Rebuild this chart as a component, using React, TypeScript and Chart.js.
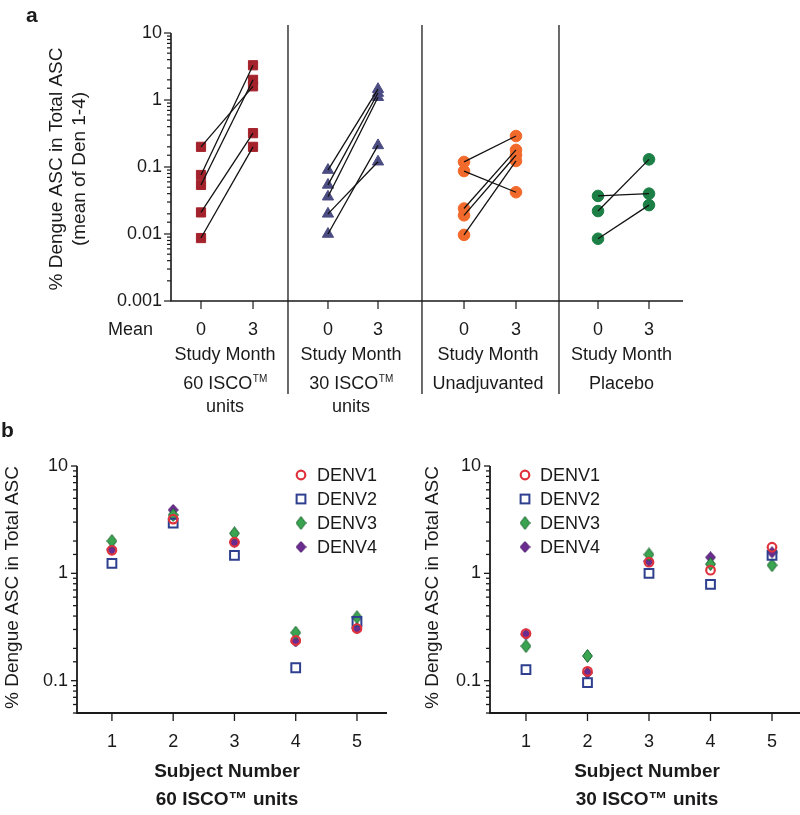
import React, { useEffect, useRef } from 'react';
import { Chart, registerables } from 'chart.js';

Chart.register(...registerables);

const FONT = '"Liberation Sans", Arial, Helvetica, sans-serif';
const INK = '#1a1a1a';

// ---------------- Panel a data ----------------
const monthLabels = ['0', '3'];
const groupLabels = ['60 ISCO', '30 ISCO', 'Unadjuvanted', 'Placebo'];
const groupHasTM = [true, true, false, false];
const groupSecondLine = ['units', 'units', '', ''];

const isco60Month0 = [0.2, 0.076, 0.054, 0.021, 0.0087];
const isco60Month3 = [1.6, 3.3, 2.0, 0.32, 0.2];
const isco30Month0 = [0.09, 0.054, 0.036, 0.02, 0.01];
const isco30Month3 = [1.45, 1.27, 1.1, 0.12, 0.21];
const unadjMonth0 = [0.119, 0.087, 0.024, 0.019, 0.0097];
const unadjMonth3 = [0.29, 0.042, 0.18, 0.15, 0.123];
const placeboMonth0 = [0.037, 0.022, 0.0085];
const placeboMonth3 = [0.04, 0.13, 0.027];

// ---------------- Panel b data ----------------
const subjectLabels = ['1', '2', '3', '4', '5'];
const denvLabels = ['DENV1', 'DENV2', 'DENV3', 'DENV4'];

const isco60Denv1 = [1.64, 3.2, 1.95, 0.237, 0.306];
const isco60Denv2 = [1.24, 2.93, 1.47, 0.132, 0.356];
const isco60Denv3 = [2.0, 3.5, 2.36, 0.28, 0.39];
const isco60Denv4 = [1.67, 3.9, 1.95, 0.232, 0.31];

const isco30Denv1 = [0.275, 0.122, 1.27, 1.07, 1.75];
const isco30Denv2 = [0.127, 0.096, 1.0, 0.79, 1.47];
const isco30Denv3 = [0.21, 0.17, 1.5, 1.22, 1.19];
const isco30Denv4 = [0.27, 0.118, 1.3, 1.41, 1.57];

// ---------------- layout (axis units) ----------------
const GROUP_X = [
  [0.586, 1.602],
  [3.066, 4.043],
  [5.723, 6.738],
  [8.34, 9.336],
];
const DIVIDERS_X = [2.285, 4.902, 7.578];

const GROUP_STYLE = [
  { color: '#a4222b', style: 'rect', radius: 6.5 },
  { color: '#4b4c82', style: 'triangle', radius: 6.5 },
  { color: '#f26a2b', style: 'circle', radius: 5.8 },
  { color: '#1c7f45', style: 'circle', radius: 5.8 },
];

const DENV_COLORS = {
  d1: '#e0323d',
  d2: '#2d3f8e',
  d3fill: '#3aa450',
  d3stroke: '#1d6630',
  d4fill: '#6b2c90',
  d4stroke: '#4a1a68',
};

function isMajor(v: number) {
  const l = Math.log10(v);
  return Math.abs(l - Math.round(l)) < 1e-6;
}
function fmtLog(v: number) {
  return isMajor(v) ? String(Number(v.toPrecision(1))) : '';
}

function drawTextTM(ctx: CanvasRenderingContext2D, base: string, tm: boolean, cx: number, cy: number) {
  ctx.font = `18px ${FONT}`;
  const w1 = ctx.measureText(base).width;
  let w2 = 0;
  if (tm) {
    ctx.font = `10px ${FONT}`;
    w2 = ctx.measureText('TM').width;
  }
  const start = cx - (w1 + w2) / 2;
  ctx.textAlign = 'left';
  ctx.textBaseline = 'middle';
  ctx.font = `18px ${FONT}`;
  ctx.fillText(base, start, cy);
  if (tm) {
    ctx.font = `10px ${FONT}`;
    ctx.fillText('TM', start + w1 + 0.5, cy - 5);
  }
}

function drawRotated(ctx: CanvasRenderingContext2D, text: string, x: number, y: number, font: string) {
  ctx.save();
  ctx.translate(x, y);
  ctx.rotate(-Math.PI / 2);
  ctx.font = font;
  ctx.textAlign = 'center';
  ctx.textBaseline = 'middle';
  ctx.fillText(text, 0, 0);
  ctx.restore();
}

function makeDiamond(w: number, h: number, fill: string, stroke: string) {
  const c = document.createElement('canvas');
  c.width = w;
  c.height = h;
  const g = c.getContext('2d') as CanvasRenderingContext2D;
  g.beginPath();
  g.moveTo(w / 2, 0.6);
  g.lineTo(w - 0.6, h / 2);
  g.lineTo(w / 2, h - 0.6);
  g.lineTo(0.6, h / 2);
  g.closePath();
  g.fillStyle = fill;
  g.fill();
  g.strokeStyle = stroke;
  g.lineWidth = 1;
  g.stroke();
  return c;
}

// ---------------- Panel a ----------------
function PanelA() {
  const ref = useRef<HTMLCanvasElement>(null);
  useEffect(() => {
    const canvas = ref.current!;
    const groups = [
      [isco60Month0, isco60Month3],
      [isco30Month0, isco30Month3],
      [unadjMonth0, unadjMonth3],
      [placeboMonth0, placeboMonth3],
    ];
    const datasets: any[] = [];
    groups.forEach(([m0, m3], gi) => {
      const [x0, x3] = GROUP_X[gi];
      const st = GROUP_STYLE[gi];
      datasets.push({
        data: [...m0.map((v) => ({ x: x0, y: v })), ...m3.map((v) => ({ x: x3, y: v }))],
        showLine: false,
        pointStyle: st.style,
        pointRadius: st.radius,
        pointBackgroundColor: st.color,
        pointBorderColor: st.color,
        pointBorderWidth: 1,
        order: 2,
      });
      m0.forEach((v, i) => {
        datasets.push({
          data: [
            { x: x0, y: v },
            { x: x3, y: m3[i] },
          ],
          showLine: true,
          borderColor: '#111',
          borderWidth: 1.3,
          pointRadius: 0,
          order: 1,
        });
      });
    });

    const plugin = {
      id: 'panelA',
      afterDraw(chart: any) {
        const { ctx, chartArea: ca, scales } = chart;
        const x = scales.x;
        const y = scales.y;
        ctx.save();
        ctx.strokeStyle = INK;
        ctx.fillStyle = INK;
        ctx.lineWidth = 1.6;
        ctx.beginPath();
        ctx.moveTo(ca.left, ca.top);
        ctx.lineTo(ca.left, ca.bottom);
        ctx.lineTo(ca.right, ca.bottom);
        ctx.stroke();
        ctx.lineWidth = 1.2;
        y.ticks.forEach((t: any) => {
          const py = y.getPixelForValue(t.value);
          const len = isMajor(t.value) ? 7 : 4;
          ctx.beginPath();
          ctx.moveTo(ca.left - len, py);
          ctx.lineTo(ca.left, py);
          ctx.stroke();
        });
        x.ticks.forEach((t: any) => {
          const px = x.getPixelForValue(t.value);
          ctx.beginPath();
          ctx.moveTo(px, ca.bottom);
          ctx.lineTo(px, ca.bottom + 8);
          ctx.stroke();
        });
        ctx.lineWidth = 1.3;
        DIVIDERS_X.forEach((d) => {
          const px = x.getPixelForValue(d);
          ctx.beginPath();
          ctx.moveTo(px, ca.top - 8);
          ctx.lineTo(px, ca.bottom + 93);
          ctx.stroke();
        });
        // labels
        ctx.font = `18px ${FONT}`;
        ctx.textAlign = 'right';
        ctx.textBaseline = 'middle';
        ctx.fillText('Mean', ca.left - 18, ca.bottom + 29);
        GROUP_X.forEach(([a, b], gi) => {
          const cx = (x.getPixelForValue(a) + x.getPixelForValue(b)) / 2 - 2;
          ctx.font = `18px ${FONT}`;
          ctx.textAlign = 'center';
          ctx.fillText('Study Month', cx, ca.bottom + 54);
          drawTextTM(ctx, groupLabels[gi], groupHasTM[gi], cx, ca.bottom + 83);
          if (groupSecondLine[gi]) {
            ctx.font = `18px ${FONT}`;
            ctx.textAlign = 'center';
            ctx.fillText(groupSecondLine[gi], cx, ca.bottom + 106);
          }
        });
        const my = (ca.top + ca.bottom) / 2 + 2;
        drawRotated(ctx, '% Dengue ASC in Total ASC', 57, my, `19px ${FONT}`);
        drawRotated(ctx, '(mean of Den 1-4)', 80, my, `19px ${FONT}`);
        ctx.font = `bold 21px ${FONT}`;
        ctx.textAlign = 'left';
        ctx.textBaseline = 'middle';
        ctx.fillText('a', 26, 16);
        ctx.restore();
      },
    };

    const chart = new Chart(canvas, {
      type: 'scatter',
      data: { datasets },
      options: {
        responsive: false,
        animation: false,
        layout: { autoPadding: false, padding: { left: 0, top: 33, right: 117, bottom: 0 } },
        plugins: { legend: { display: false }, tooltip: { enabled: false } },
        scales: {
          x: {
            type: 'linear',
            min: 0,
            max: 10,
            afterBuildTicks: (s: any) => {
              s.ticks = GROUP_X.flat().map((v) => ({ value: v }));
            },
            afterFit: (s: any) => {
              s.height = 420 - 301;
              s.paddingLeft = 0;
              s.paddingRight = 0;
            },
            grid: { display: false, drawTicks: false },
            border: { display: false },
            ticks: {
              autoSkip: false,
              maxRotation: 0,
              padding: 18,
              color: INK,
              font: { family: FONT, size: 18 },
              callback: (_v: any, i: number) => monthLabels[i % 2],
            },
          },
          y: {
            type: 'logarithmic',
            min: 0.001,
            max: 10,
            afterFit: (s: any) => {
              s.width = 171;
              s.paddingTop = 0;
              s.paddingBottom = 0;
            },
            grid: { display: false, drawTicks: false },
            border: { display: false },
            ticks: {
              autoSkip: false,
              padding: 9,
              color: INK,
              font: { family: FONT, size: 18 },
              callback: (v: any) => fmtLog(Number(v)),
            },
          },
        },
      } as any,
      plugins: [plugin],
    });
    return () => chart.destroy();
  }, []);
  return <canvas ref={ref} width={800} height={420} style={{ position: 'absolute', left: 0, top: 0, width: 800, height: 420 }} />;
}

// ---------------- Panel b ----------------
type PanelBProps = {
  left: number;
  d1: number[];
  d2: number[];
  d3: number[];
  d4: number[];
  xMin: number;
  xMax: number;
  padRight: number;
  yAxisWidth: number;
  legendMarkerX: number;
  legendTextX: number;
  titleX: number;
  bottomCenterX: number;
  bottomLine2: string;
  showLabel: boolean;
};

function PanelB(p: PanelBProps) {
  const ref = useRef<HTMLCanvasElement>(null);
  useEffect(() => {
    const canvas = ref.current!;
    const dia3 = makeDiamond(11, 14, DENV_COLORS.d3fill, DENV_COLORS.d3stroke);
    const dia4 = makeDiamond(11, 12, DENV_COLORS.d4fill, DENV_COLORS.d4stroke);
    const xs = subjectLabels.map((s) => Number(s));
    const pts = (arr: number[]) => arr.map((v, i) => ({ x: xs[i], y: v }));
    const datasets: any[] = [
      {
        label: denvLabels[0],
        data: pts(p.d1),
        pointStyle: 'circle',
        pointRadius: 4.3,
        pointBorderWidth: 2.2,
        pointBorderColor: DENV_COLORS.d1,
        pointBackgroundColor: 'rgba(0,0,0,0)',
      },
      {
        label: denvLabels[1],
        data: pts(p.d2),
        pointStyle: 'rect',
        pointRadius: 6.2,
        pointBorderWidth: 2,
        pointBorderColor: DENV_COLORS.d2,
        pointBackgroundColor: 'rgba(0,0,0,0)',
      },
      {
        label: denvLabels[2],
        data: pts(p.d3),
        pointStyle: dia3,
        pointRadius: 6,
      },
      {
        label: denvLabels[3],
        data: pts(p.d4),
        pointStyle: dia4,
        pointRadius: 6,
      },
    ];

    const plugin = {
      id: 'panelB',
      afterDraw(chart: any) {
        const { ctx, chartArea: ca, scales } = chart;
        const x = scales.x;
        const y = scales.y;
        ctx.save();
        ctx.strokeStyle = INK;
        ctx.fillStyle = INK;
        ctx.lineWidth = 1.8;
        ctx.beginPath();
        ctx.moveTo(ca.left, ca.top);
        ctx.lineTo(ca.left, ca.bottom);
        ctx.lineTo(ca.right, ca.bottom);
        ctx.stroke();
        ctx.lineWidth = 1.3;
        y.ticks.forEach((t: any) => {
          const py = y.getPixelForValue(t.value);
          const len = isMajor(t.value) ? 6 : 4;
          ctx.beginPath();
          ctx.moveTo(ca.left - len, py);
          ctx.lineTo(ca.left, py);
          ctx.stroke();
        });
        x.ticks.forEach((t: any) => {
          const px = x.getPixelForValue(t.value);
          ctx.beginPath();
          ctx.moveTo(px, ca.bottom);
          ctx.lineTo(px, ca.bottom + 8);
          ctx.stroke();
        });
        // legend
        denvLabels.forEach((lab, i) => {
          const ly = 55 + i * 24;
          const mx = p.legendMarkerX;
          if (i === 0) {
            ctx.strokeStyle = DENV_COLORS.d1;
            ctx.lineWidth = 2.2;
            ctx.beginPath();
            ctx.arc(mx, ly, 4.3, 0, Math.PI * 2);
            ctx.stroke();
          } else if (i === 1) {
            ctx.strokeStyle = DENV_COLORS.d2;
            ctx.lineWidth = 2;
            ctx.strokeRect(mx - 4.4, ly - 4.4, 8.8, 8.8);
          } else {
            const img = i === 2 ? dia3 : dia4;
            ctx.drawImage(img, mx - img.width / 2, ly - img.height / 2);
          }
          ctx.fillStyle = INK;
          ctx.font = `18px ${FONT}`;
          ctx.textAlign = 'left';
          ctx.textBaseline = 'middle';
          ctx.fillText(lab, p.legendTextX, ly + 1);
        });
        ctx.fillStyle = INK;
        drawRotated(ctx, '% Dengue ASC in Total ASC', p.titleX, (ca.top + ca.bottom) / 2 - 2, `19px ${FONT}`);
        ctx.font = `bold 19px ${FONT}`;
        ctx.textAlign = 'center';
        ctx.textBaseline = 'middle';
        ctx.fillText('Subject Number', p.bottomCenterX, 352);
        ctx.fillText(p.bottomLine2, p.bottomCenterX, 380);
        if (p.showLabel) {
          ctx.font = `bold 21px ${FONT}`;
          ctx.textAlign = 'left';
          ctx.fillText('b', 1, 11);
        }
        ctx.restore();
      },
    };

    const chart = new Chart(canvas, {
      type: 'scatter',
      data: { datasets },
      options: {
        responsive: false,
        animation: false,
        layout: { autoPadding: false, padding: { left: 0, top: 46, right: p.padRight, bottom: 0 } },
        plugins: { legend: { display: false }, tooltip: { enabled: false } },
        scales: {
          x: {
            type: 'linear',
            min: p.xMin,
            max: p.xMax,
            afterBuildTicks: (s: any) => {
              s.ticks = xs.map((v) => ({ value: v }));
            },
            afterFit: (s: any) => {
              s.height = 395 - 293;
              s.paddingLeft = 0;
              s.paddingRight = 0;
            },
            grid: { display: false, drawTicks: false },
            border: { display: false },
            ticks: {
              autoSkip: false,
              maxRotation: 0,
              padding: 18,
              color: INK,
              font: { family: FONT, size: 18 },
              callback: (_v: any, i: number) => subjectLabels[i],
            },
          },
          y: {
            type: 'logarithmic',
            min: 0.05,
            max: 10,
            afterFit: (s: any) => {
              s.width = p.yAxisWidth;
              s.paddingTop = 0;
              s.paddingBottom = 0;
            },
            grid: { display: false, drawTicks: false },
            border: { display: false },
            ticks: {
              autoSkip: false,
              padding: 9,
              color: INK,
              font: { family: FONT, size: 18 },
              callback: (v: any) => fmtLog(Number(v)),
            },
          },
        },
      } as any,
      plugins: [plugin],
    });
    return () => chart.destroy();
  }, []);
  return (
    <canvas
      ref={ref}
      width={400}
      height={395}
      style={{ position: 'absolute', left: p.left, top: 420, width: 400, height: 395 }}
    />
  );
}

export default function App() {
  return (
    <div style={{ position: 'absolute', left: 0, top: 0, width: 800, height: 815, background: '#fff', overflow: 'hidden' }}>
      <PanelA />
      <PanelB
        left={0}
        d1={isco60Denv1}
        d2={isco60Denv2}
        d3={isco60Denv3}
        d4={isco60Denv4}
        xMin={0.43}
        xMax={5.49}
        padRight={13}
        yAxisWidth={77}
        legendMarkerX={301}
        legendTextX={317}
        titleX={13}
        bottomCenterX={227}
        bottomLine2="60 ISCO™ units"
        showLabel={true}
      />
      <PanelB
        left={400}
        d1={isco30Denv1}
        d2={isco30Denv2}
        d3={isco30Denv3}
        d4={isco30Denv4}
        xMin={0.415}
        xMax={5.455}
        padRight={0}
        yAxisWidth={90}
        legendMarkerX={125}
        legendTextX={140}
        titleX={33}
        bottomCenterX={247}
        bottomLine2="30 ISCO™ units"
        showLabel={false}
      />
    </div>
  );
}
